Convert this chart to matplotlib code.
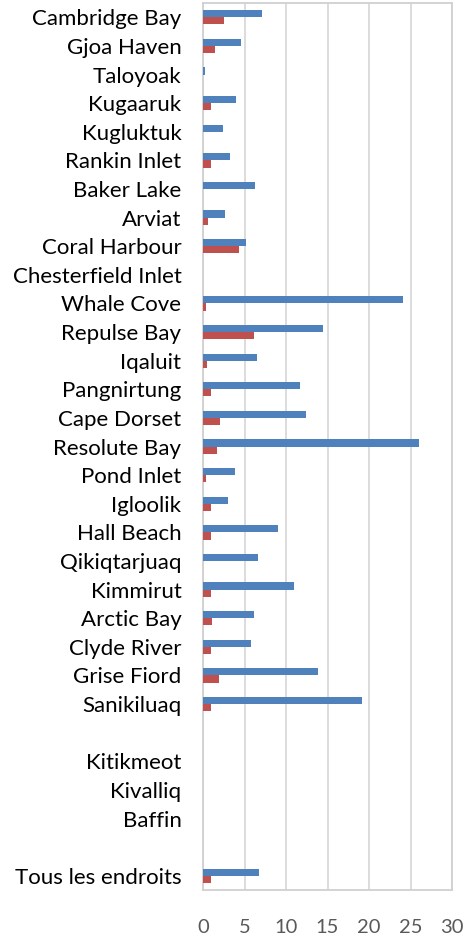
import numpy as np
import matplotlib
matplotlib.use('Agg')
import matplotlib.pyplot as plt

# rows from top to bottom; "" marks the empty spacer rows
places = ["Cambridge Bay", "Gjoa Haven", "Taloyoak", "Kugaaruk", "Kugluktuk",
          "Rankin Inlet", "Baker Lake", "Arviat", "Coral Harbour",
          "Chesterfield Inlet", "Whale Cove", "Repulse Bay", "Iqaluit",
          "Pangnirtung", "Cape Dorset", "Resolute Bay", "Pond Inlet", "Igloolik",
          "Hall Beach", "Qikiqtarjuaq", "Kimmirut", "Arctic Bay", "Clyde River",
          "Grise Fiord", "Sanikiluaq", "", "Kitikmeot", "Kivalliq", "Baffin", "",
          "Tous les endroits"]

blue_vals = [7.05, 4.6, 0.3, 4.0, 2.4, 3.2, 6.3, 2.65, 5.15, 0, 24.15, 14.45,
             6.5, 11.65, 12.45, 26.0, 3.8, 3.0, 9.05, 6.65, 11.0, 6.2, 5.8,
             13.8, 19.15, 0, 0, 0, 0, 0, 6.75]
red_vals = [2.55, 1.5, 0, 0.95, 0, 0.95, 0, 0.55, 4.35, 0, 0.4, 6.15, 0.45,
            0.95, 2.1, 1.7, 0.4, 0.95, 0.95, 0, 0.95, 1.1, 0.95, 1.95, 0.95,
            0, 0, 0, 0, 0, 0.95]

xticks = [0, 5, 10, 15, 20, 25, 30]

fig = plt.figure(figsize=(4.67, 9.36), dpi=100)
ax = fig.add_axes([0.4347, 0.0491, 0.5333, 0.9477])

y = np.arange(len(places))
h = 0.25
ax.barh(y - h / 2, blue_vals, height=h, color='#4F81BD', zorder=3)
ax.barh(y + h / 2, red_vals, height=h, color='#C0504D', zorder=3)

ax.set_xlim(0, 30)
ax.set_ylim(len(places) - 0.5, -0.5)
ax.set_xticks(xticks)
ax.set_yticks(y)
ax.set_yticklabels(places, fontsize=16, family='Lato', color='black')
for lbl in ax.get_xticklabels():
    lbl.set_family('Lato')
ax.tick_params(axis='x', length=0, pad=20.5, labelsize=14.5, labelcolor='#595959')
ax.tick_params(axis='y', length=0, pad=15.5)

ax.grid(axis='x', color='#d9d9d9', linewidth=1.3, zorder=0)
for s in ax.spines.values():
    s.set_color('#d0d0d0')
    s.set_linewidth(1.3)

fig.savefig('out.png', dpi=100)
